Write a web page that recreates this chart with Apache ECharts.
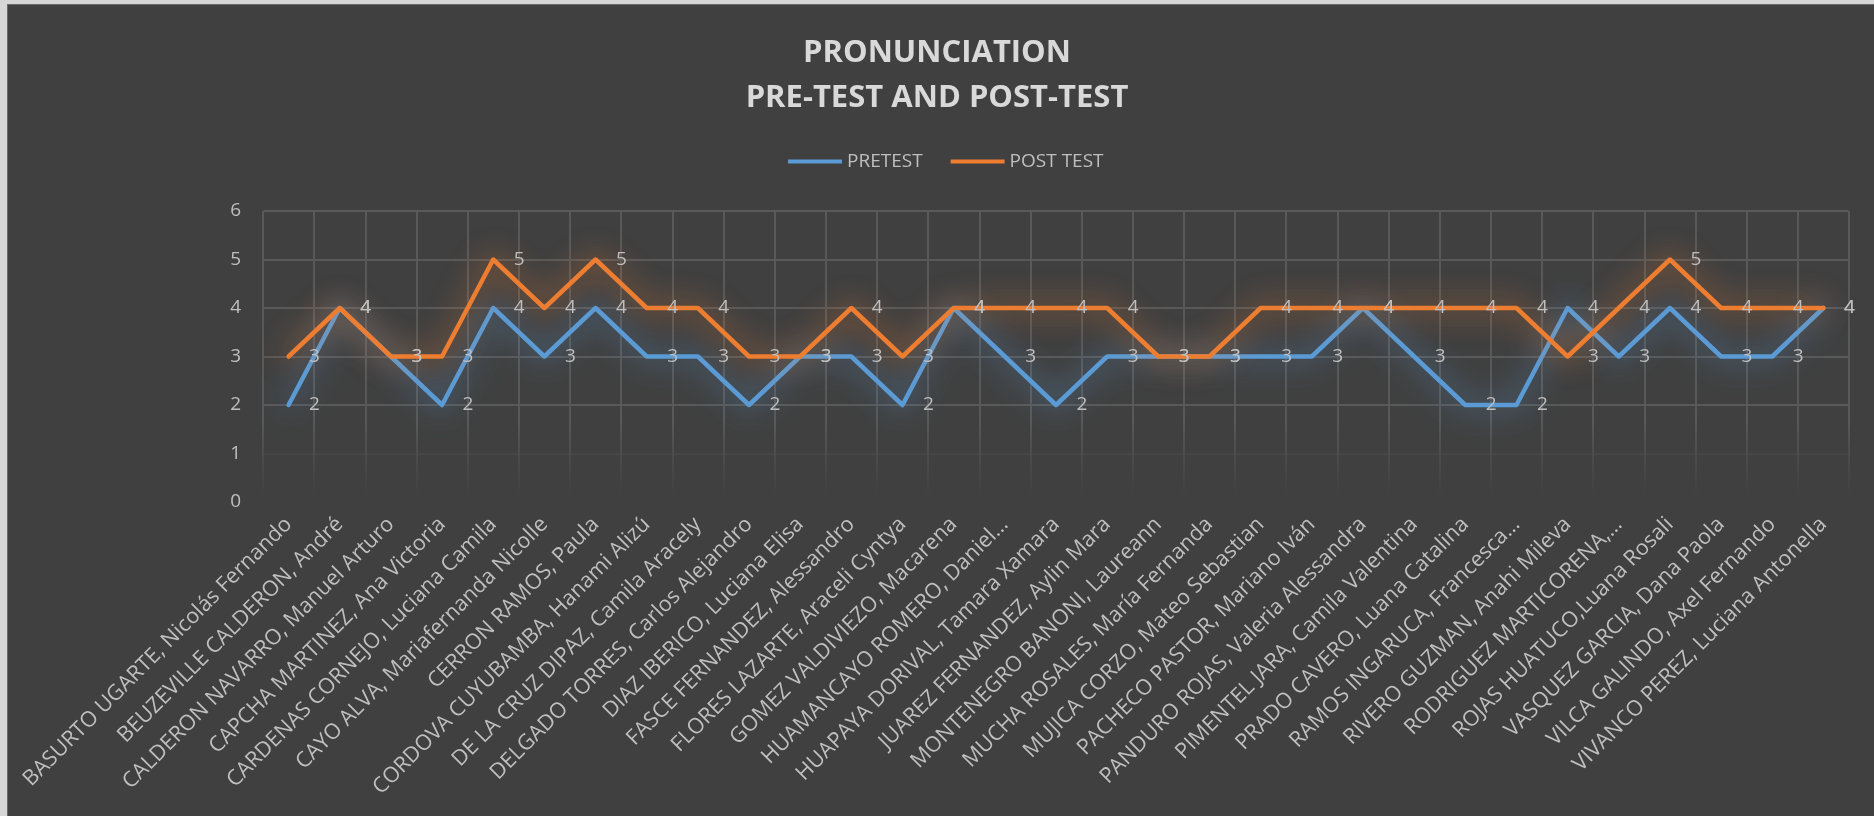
<!DOCTYPE html>
<html>
<head>
<meta charset="utf-8">
<script src="https://cdn.jsdelivr.net/npm/echarts@6/dist/echarts.min.js"></script>
<style>
html,body{margin:0;padding:0;background:#404040;}
#chart{width:1874px;height:816px;}
</style>
</head>
<body>
<div id="chart"></div>
<script>
const categories = [
  "BASURTO UGARTE, Nicolás Fernando",
  "BEUZEVILLE CALDERON, André",
  "CALDERON NAVARRO, Manuel Arturo",
  "CAPCHA MARTINEZ, Ana Victoria",
  "CARDENAS CORNEJO, Luciana Camila",
  "CAYO ALVA, Mariafernanda Nicolle",
  "CERRON RAMOS, Paula",
  "CORDOVA CUYUBAMBA, Hanami Alizú",
  "DE LA CRUZ DIPAZ, Camila Aracely",
  "DELGADO TORRES, Carlos Alejandro",
  "DIAZ IBERICO, Luciana Elisa",
  "FASCE FERNANDEZ, Alessandro",
  "FLORES LAZARTE, Araceli Cyntya",
  "GOMEZ VALDIVIEZO, Macarena",
  "HUAMANCAYO ROMERO, Daniel…",
  "HUAPAYA DORIVAL, Tamara Xamara",
  "JUAREZ FERNANDEZ, Aylin Mara",
  "MONTENEGRO BANONI, Laureann",
  "MUCHA ROSALES, María Fernanda",
  "MUJICA CORZO, Mateo Sebastian",
  "PACHECO PASTOR, Mariano Iván",
  "PANDURO ROJAS, Valeria Alessandra",
  "PIMENTEL JARA, Camila Valentina",
  "PRADO CAVERO, Luana Catalina",
  "RAMOS INGARUCA, Francesca…",
  "RIVERO GUZMAN, Anahi Mileva",
  "RODRIGUEZ MARTICORENA,…",
  "ROJAS HUATUCO,Luana Rosali",
  "VASQUEZ GARCIA, Dana Paola",
  "VILCA GALINDO, Axel Fernando",
  "VIVANCO PEREZ, Luciana Antonella"
];
const pretest  = [2,4,3,2,4,3,4,3,3,2,3,3,2,4,3,2,3,3,3,3,3,4,3,2,2,4,3,4,3,3,4];
const posttest = [3,4,3,3,5,4,5,4,4,3,3,4,3,4,4,4,4,3,3,4,4,4,4,4,4,3,4,5,4,4,4];
const yTicks = [0,1,2,3,4,5,6];
const titleLines = ["PRONUNCIATION", "PRE-TEST AND POST-TEST"];
const seriesNames = ["PRETEST", "POST TEST"];

const FONT = "'Open Sans', 'Noto Sans', sans-serif";
const TXT = '#bfbfbf';
const GRID = '#595959';
const BLUE = '#5B9BD5';
const ORANGE = '#ED7D31';
const BG = '#404040';

const chart = echarts.init(document.getElementById('chart'), null, {renderer:'canvas'});

function lineSeries(name, data, color, glow) {
  return {
    name: name,
    type: 'line',
    data: data,
    z: 3,
    symbol: 'circle',
    symbolSize: 1,
    showSymbol: true,
    itemStyle: {color: color},
    lineStyle: {color: color, width: 4.5, shadowBlur: 30, shadowColor: glow, shadowOffsetX: 0, shadowOffsetY: 0, cap: 'round', join: 'round'},
    label: {
      show: true, position: 'right', distance: 20,
      color: TXT, fontFamily: FONT, fontSize: 19
    },
    emphasis: {disabled: true},
    animation: false
  };
}

chart.setOption({
  backgroundColor: BG,
  animation: false,
  title: {
    text: titleLines.join('\n'),
    left: 'center',
    top: 26,
    textStyle: {color: '#d9d9d9', fontFamily: FONT, fontWeight: 'bold', fontSize: 31, lineHeight: 45}
  },
  legend: {
    left: 783,
    top: 147,
    icon: 'rect',
    itemWidth: 54,
    itemHeight: 4,
    itemGap: 28,
    textStyle: {color: TXT, fontFamily: FONT, fontSize: 19},
    data: seriesNames
  },
  grid: {left: 263, right: 25, top: 211, bottom: 314, containLabel: false},
  xAxis: {
    type: 'category',
    data: categories,
    boundaryGap: true,
    axisLine: {show: false},
    axisTick: {show: false},
    axisLabel: {
      interval: 0, rotate: 45, margin: 19,
      color: TXT, fontFamily: FONT, fontSize: 21.5
    },
    splitLine: {show: true, interval: 0, lineStyle: {width: 2, color: GRID}}
  },
  yAxis: {
    type: 'value',
    min: yTicks[0],
    max: yTicks[yTicks.length - 1],
    interval: 1,
    axisLine: {show: false},
    axisTick: {show: false},
    axisLabel: {color: TXT, fontFamily: FONT, fontSize: 19, margin: 22},
    splitLine: {show: true, lineStyle: {width: 2, color: ['rgba(89,89,89,0)', 'rgba(89,89,89,0.45)', GRID, GRID, GRID, GRID, GRID]}}
  },
  graphic: [
    {type: 'rect', z: 1, silent: true, shape: {x: 255, y: 420, width: 1600, height: 90},
      style: {fill: new echarts.graphic.LinearGradient(0, 0, 0, 1, [
        {offset: 0, color: 'rgba(64,64,64,0)'},
        {offset: 0.45, color: 'rgba(64,64,64,0.6)'},
        {offset: 0.85, color: 'rgba(64,64,64,1)'},
        {offset: 1, color: 'rgba(64,64,64,1)'}
      ])}},
    {type: 'rect', z: 10, shape: {x: 0, y: 0, width: 1874, height: 4}, style: {fill: '#d6d6d6'}, silent: true},
    {type: 'rect', z: 10, shape: {x: 0, y: 4, width: 1874, height: 1}, style: {fill: '#6a6a6a'}, silent: true},
    {type: 'rect', z: 10, shape: {x: 0, y: 0, width: 7, height: 816}, style: {fill: '#d6d6d6'}, silent: true},
    {type: 'rect', z: 10, shape: {x: 7, y: 4, width: 1, height: 812}, style: {fill: '#6a6a6a'}, silent: true}
  ],
  series: [
    lineSeries(seriesNames[0], pretest, BLUE, 'rgba(91,155,213,1)'),
    lineSeries(seriesNames[1], posttest, ORANGE, 'rgba(237,125,49,1)')
  ]
});
</script>
</body>
</html>
